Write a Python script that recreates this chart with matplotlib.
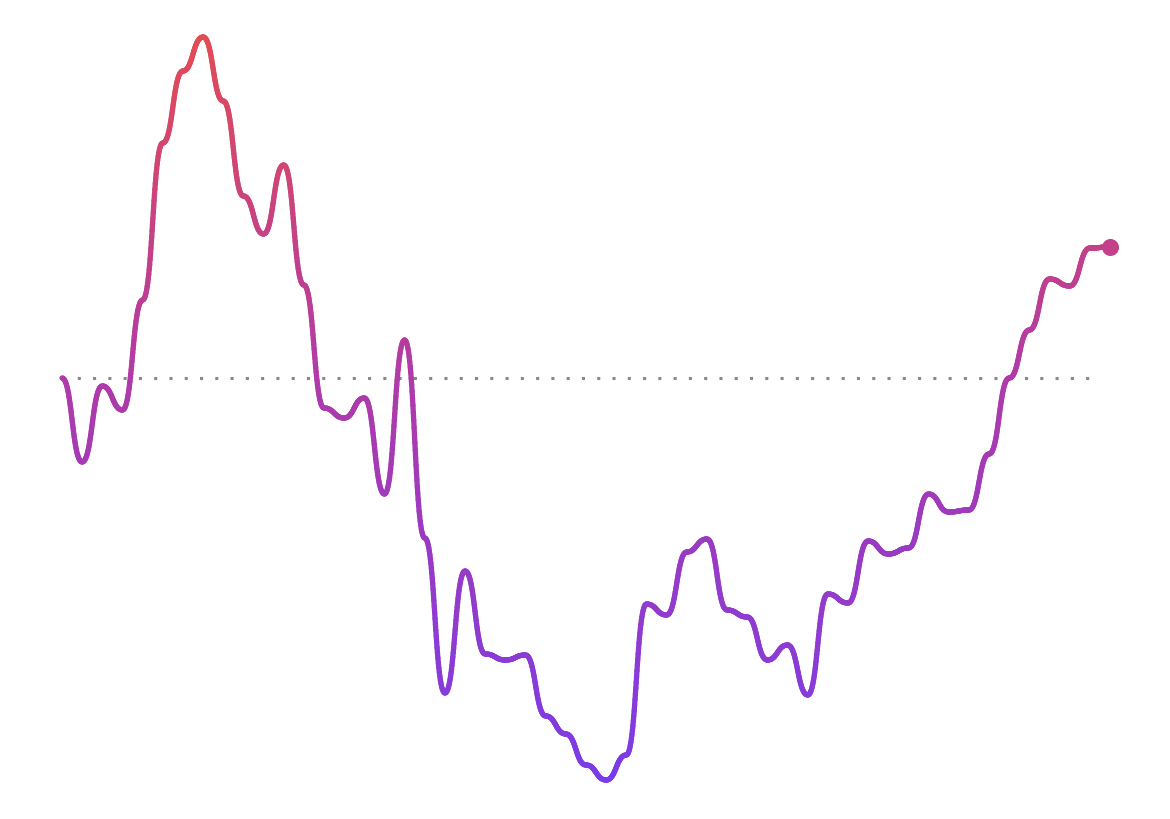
"""
Smooth gradient line (bump curve) with a dotted baseline at the start value.
Output: out.png
"""

import numpy as np
import matplotlib.pyplot as plt
from matplotlib.collections import LineCollection
from matplotlib.colors import LinearSegmentedColormap

# ── Data ───────────────────────────────────────────────────────────────────
steps = np.arange(53)
values = np.array([
    0, -84, -8, -32, 78, 235, 307, 341, 277, 182,
    144, 213, 93, -30, -40, -20, -116, 38, -160, -315,
    -193, -276, -282, -277, -338, -356, -387, -402, -377, -226,
    -237, -174, -161, -232, -239, -282, -267, -317, -216, -225,
    -163, -176, -170, -116, -134, -132, -76, 0, 48, 99,
    92, 130, 131,
])
baseline = values[0]

# ── Style ──────────────────────────────────────────────────────────────────
cmap = LinearSegmentedColormap.from_list(
    "purple_red", [(0.0, "#7b3be8"), (0.54, "#b03aa8"), (1.0, "#e24c55")]
)
v_lo, v_hi = -402, 341


def bump_x(x, y, n=40):
    # cubic Bezier with horizontal tangents at each point (like d3.curveBumpX)
    xs, ys = [x[0]], [y[0]]
    t = np.linspace(0, 1, n)[1:]
    for x0, y0, x1, y1 in zip(x[:-1], y[:-1], x[1:], y[1:]):
        xm = (x0 + x1) / 2
        bx = (1 - t) ** 3 * x0 + 3 * (1 - t) ** 2 * t * xm + 3 * (1 - t) * t ** 2 * xm + t ** 3 * x1
        by = (1 - t) ** 3 * y0 + 3 * (1 - t) ** 2 * t * y0 + 3 * (1 - t) * t ** 2 * y1 + t ** 3 * y1
        xs.extend(bx)
        ys.extend(by)
    return np.array(xs), np.array(ys)


# ── Figure ─────────────────────────────────────────────────────────────────
fig = plt.figure(figsize=(11.7, 8.19), dpi=100)
ax = fig.add_axes([0, 0, 1, 1])
ax.set_xlim(-62 / 20.154, (1170 - 62) / 20.154)
ax.set_ylim(378 - 819, 378)
ax.axis("off")

ax.plot([steps[0], steps[-1] - 0.5], [baseline, baseline],
        color="#888888", lw=2.2, linestyle=(0, (1, 4)), zorder=1)

sx, sy = bump_x(steps.astype(float), values.astype(float))
pts = np.column_stack([sx, sy]).reshape(-1, 1, 2)
segs = np.concatenate([pts[:-1], pts[1:]], axis=1)
mid = (sy[:-1] + sy[1:]) / 2
colors = cmap((mid - v_lo) / (v_hi - v_lo))
lc = LineCollection(segs, colors=colors, linewidths=3.8,
                    capstyle="round", joinstyle="round", zorder=2)
ax.add_collection(lc)

end_c = cmap((values[-1] - v_lo) / (v_hi - v_lo))
ax.scatter([steps[-1]], [values[-1]], s=150, color=end_c, zorder=3, linewidths=0)

fig.savefig("out.png", dpi=100)
plt.close(fig)
